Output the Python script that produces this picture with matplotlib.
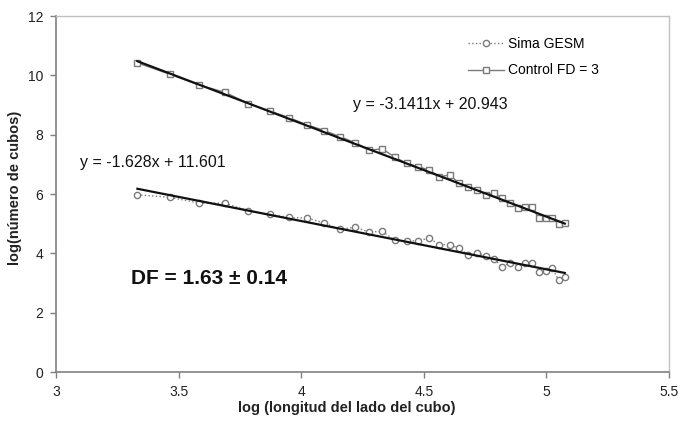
import matplotlib
matplotlib.use("Agg")
import matplotlib.pyplot as plt

plt.rcParams['font.family'] = ['Liberation Sans', 'DejaVu Sans']

# log of cube side length (same sizes for both series)
log_lado = [3.332, 3.466, 3.584, 3.689, 3.784, 3.871, 3.951, 4.025, 4.094, 4.159,
            4.220, 4.277, 4.331, 4.382, 4.431, 4.477, 4.522, 4.564, 4.605, 4.644,
            4.682, 4.718, 4.754, 4.787, 4.820, 4.852, 4.883, 4.913, 4.942, 4.970,
            4.997, 5.024, 5.050, 5.075]

# log of number of cubes
sima_gesm = [5.97, 5.89, 5.69, 5.69, 5.43, 5.31, 5.21, 5.19, 5.02, 4.81,
             4.88, 4.72, 4.74, 4.44, 4.41, 4.43, 4.51, 4.29, 4.29, 4.17,
             3.94, 4.01, 3.90, 3.80, 3.55, 3.69, 3.55, 3.66, 3.68, 3.38,
             3.41, 3.49, 3.10, 3.19]
control_fd3 = [10.42, 10.03, 9.67, 9.43, 9.05, 8.80, 8.57, 8.33, 8.14, 7.93,
               7.73, 7.48, 7.52, 7.24, 7.03, 6.92, 6.81, 6.58, 6.64, 6.37,
               6.25, 6.13, 5.97, 6.02, 5.85, 5.71, 5.52, 5.55, 5.55, 5.18,
               5.20, 5.20, 4.99, 5.01]

# linear fits (slope, intercept)
fit_sima = (-1.628, 11.601)
fit_control = (-3.1411, 20.943)

fig = plt.figure(figsize=(6.8, 4.24), dpi=100)
ax = fig.add_axes([56 / 680, 52 / 424, 613 / 680, 356 / 424])

grey = '#7a7a7a'
ax.plot(log_lado, sima_gesm, linestyle=':', color=grey, lw=1,
        marker='o', ms=4.5, mfc='white', mec=grey, mew=1, label='Sima GESM')
ax.plot(log_lado, control_fd3, linestyle='-', color=grey, lw=1,
        marker='s', ms=5, mfc='white', mec=grey, mew=1, label='Control FD = 3')

x0, x1 = log_lado[0], log_lado[-1]
for m, b in (fit_sima, fit_control):
    ax.plot([x0, x1], [m * x0 + b, m * x1 + b], color='#111111', lw=1.6)

ax.text(4.211, 9.0, 'y = -3.1411x + 20.943', fontsize=11.5, va='center', color='#111111')
ax.text(3.098, 7.05, 'y = -1.628x + 11.601', fontsize=11.5, va='center', color='#111111')
ax.text(3.306, 3.15, 'DF = 1.63 \u00b1 0.14', fontsize=15, fontweight='bold',
        va='center', color='#111111')

ax.set_xlim(3, 5.5)
ax.set_ylim(0, 12)
ax.set_xticks([3, 3.5, 4, 4.5, 5, 5.5])
ax.set_xticklabels(['3', '3.5', '4', '4.5', '5', '5.5'])
ax.set_yticks([0, 2, 4, 6, 8, 10, 12])

for side in ('left', 'bottom'):
    ax.spines[side].set_color('#808080')
    ax.spines[side].set_linewidth(1.2)
for side in ('top', 'right'):
    ax.spines[side].set_color('#c0c0c0')
    ax.spines[side].set_linewidth(1)
ax.tick_params(direction='out', length=4, width=1, color='#808080',
               labelsize=10, labelcolor='#222222', pad=5)

ax.set_xlabel('log (longitud del lado del cubo)', fontsize=10.5, fontweight='bold', color='#222222')
ax.set_ylabel('log(número de cubos)', fontsize=10.5, fontweight='bold', color='#222222')
ax.xaxis.set_label_coords(0.474, -0.082)
ax.yaxis.set_label_coords(-0.055, 0.517)

ax.legend(loc='upper left', bbox_to_anchor=(461 / 680, 1 - 30 / 424),
          bbox_transform=fig.transFigure, frameon=False, fontsize=10,
          handlelength=2.6, handletextpad=0.3, labelspacing=0.9, borderpad=0)

fig.savefig('out.png', dpi=100)
